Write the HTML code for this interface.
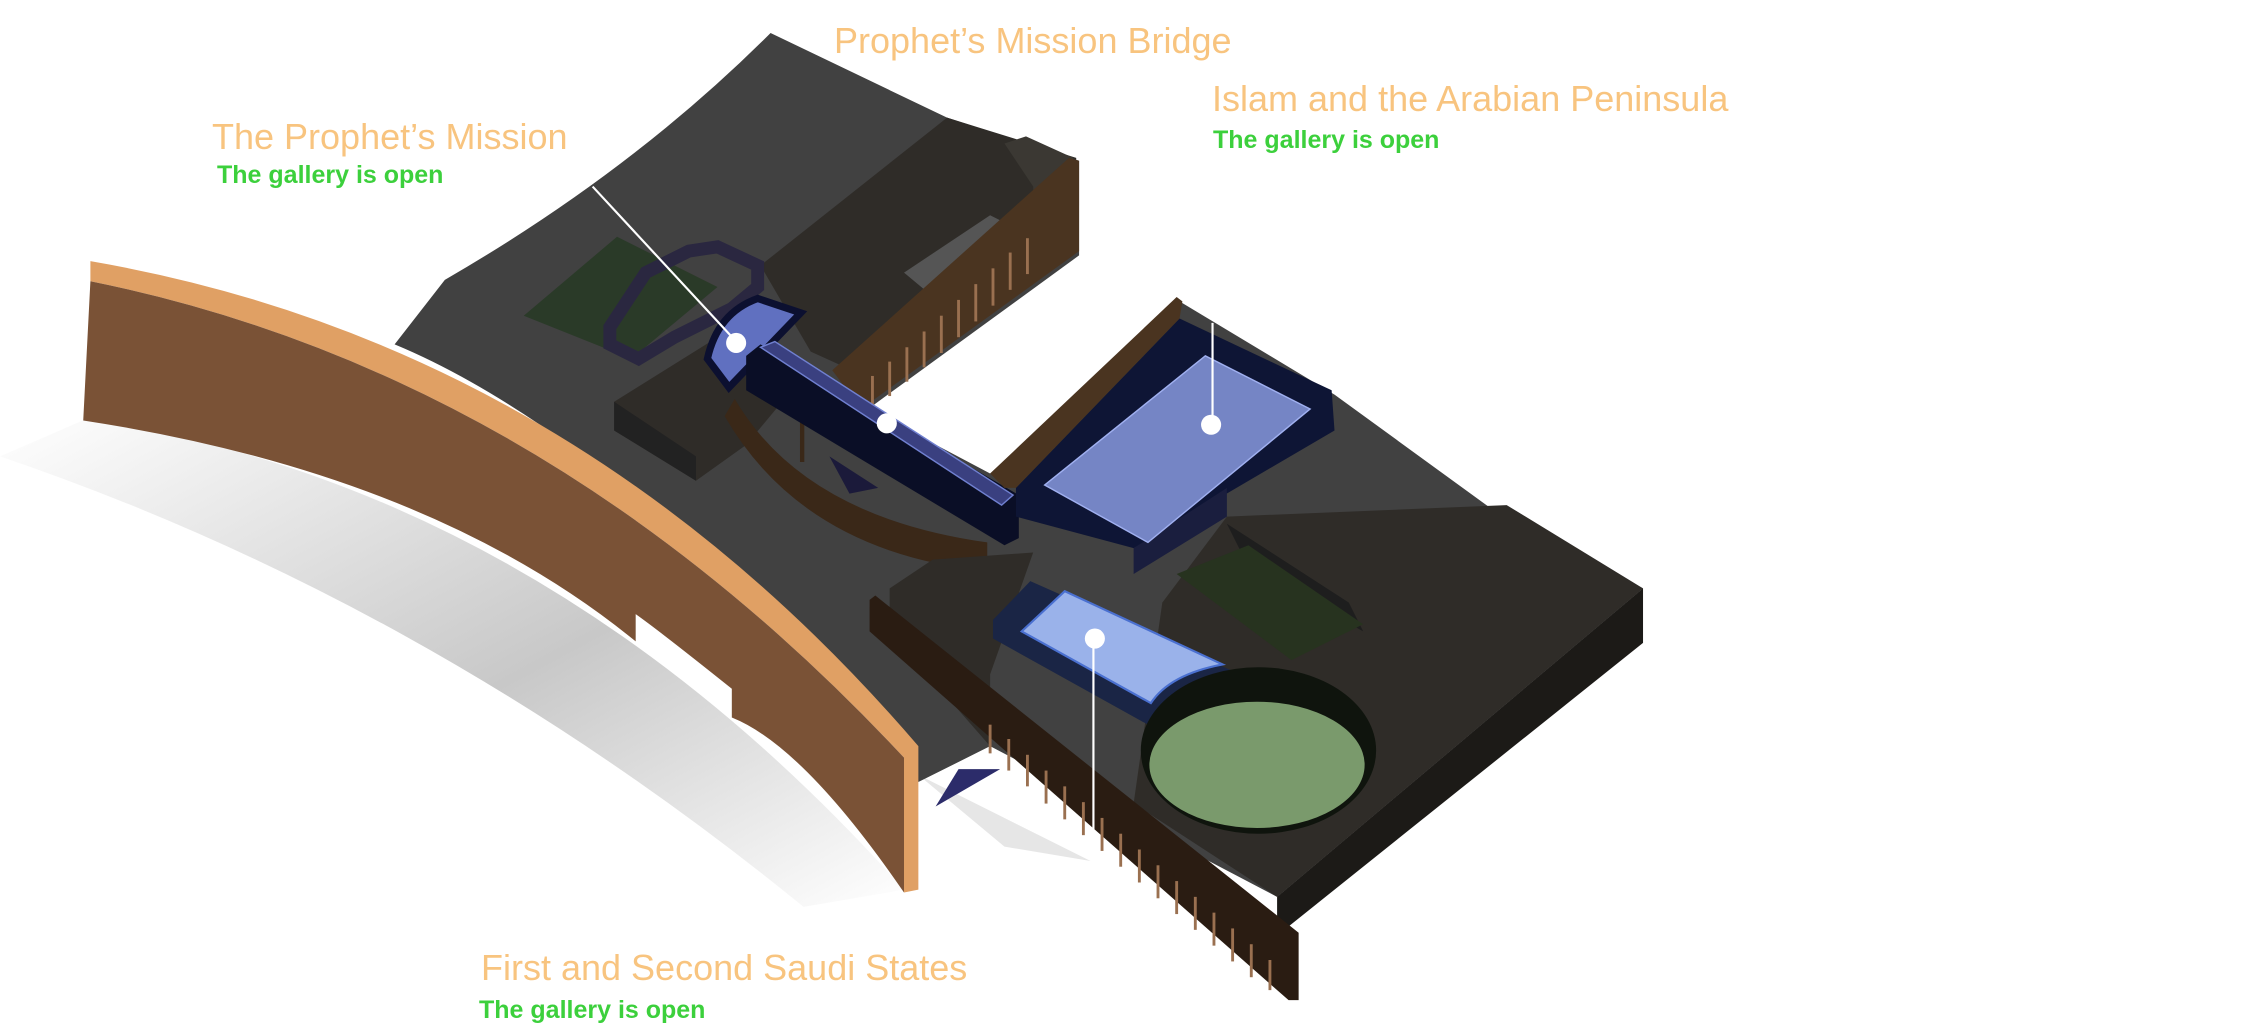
<!DOCTYPE html>
<html><head><meta charset="utf-8"><style>
html,body{margin:0;padding:0;background:#fff}
body{width:2250px;height:1026px;position:relative;overflow:hidden;font-family:"Liberation Sans",sans-serif}
svg{position:absolute;left:0;top:0}
.t{position:absolute;color:#f8c47f;font-size:36px;white-space:nowrap;line-height:1}
.g{position:absolute;color:#3cd03c;font-size:25px;font-weight:bold;white-space:nowrap;line-height:1}
</style></head><body>
<svg width="2250" height="1026" viewBox="0 0 1568 715" preserveAspectRatio="none">
<defs>
<linearGradient id="sh" x1="0" y1="0" x2="1" y2="1"><stop offset="0" stop-color="#fff"/><stop offset="0.55" stop-color="#c8c8c8"/><stop offset="1" stop-color="#fff"/></linearGradient>
</defs>
<!-- shadow -->
<path d="M0,318 L60,292 Q380,340 630,620 L560,632 Q300,420 0,318Z" fill="url(#sh)"/>
<path d="M640,540 L760,600 L700,590 Z" fill="#e6e6e6"/>
<!-- main gray platform -->
<path d="M537,23 L660,82 L752,112 L752,178 L690,330 L822,210 L930,275 L1040,355 L1145,410 L890,625 L690,520 L640,545 L630,520 Q420,300 275,240 L310,195 Q440,120 537,23Z" fill="#414141"/>
<!-- upper center dark blocks -->
<path d="M530,185 L660,82 L750,110 L750,175 L620,270 L565,245 Z" fill="#2f2c28"/>
<path d="M700,100 L715,95 L748,110 L748,178 L722,196 L720,130 Z" fill="#3b3833"/>
<path d="M630,190 L690,150 L720,165 L660,215Z" fill="#555"/>
<!-- white gap -->
<path d="M752,178 L820,207 L690,330 L605,285 Z" fill="#fff"/>
<!-- brown rail upper -->
<path d="M580,258 L745,110 L752,112 L752,175 L600,285 Z" fill="#4a3420"/>
<g stroke="#9a7050" stroke-width="2">
<line x1="608" y1="262" x2="608" y2="285"/><line x1="620" y1="252" x2="620" y2="276"/><line x1="632" y1="242" x2="632" y2="266"/><line x1="644" y1="231" x2="644" y2="256"/><line x1="656" y1="220" x2="656" y2="246"/><line x1="668" y1="209" x2="668" y2="235"/><line x1="680" y1="198" x2="680" y2="224"/><line x1="692" y1="187" x2="692" y2="213"/><line x1="704" y1="176" x2="704" y2="202"/><line x1="716" y1="166" x2="716" y2="191"/>
</g>
<!-- green courtyard upper left -->
<path d="M365,220 L430,165 L500,200 L440,250 Z" fill="#2a3a28"/>
<path d="M425,228 L450,190 L480,175 L500,172 L528,185 L528,200 L510,215 L470,235 L445,250 L425,240Z" fill="none" stroke="#2a2740" stroke-width="9"/>
<!-- left dark block -->
<path d="M428,280 L500,235 L560,262 L520,310 L485,335 L428,300Z" fill="#2f2c28"/>
<path d="M428,280 L428,300 L485,335 L485,318 Z" fill="#222"/>
<!-- arc brown rail -->
<path d="M512,278 Q560,360 688,378 L688,398 Q560,385 505,290Z" fill="#3a2818"/>
<path d="M578,318 L612,340 L592,344 Z" fill="#1b1a3a"/>
<line x1="559" y1="278" x2="559" y2="322" stroke="#3a2818" stroke-width="3"/>
<!-- semicircle -->
<path d="M493,250 Q500,218 528,208 L558,218 L508,270 Z" fill="#6070c0" stroke="#0c1030" stroke-width="5"/>
<!-- bridge -->
<path d="M520,248 L530,240 L710,345 L710,375 L700,380 L520,272Z" fill="#0a0e26"/>
<path d="M530,242 L540,238 L706,345 L698,352 Z" fill="#3a4080" stroke="#7080d0" stroke-width="1"/>
<!-- big blue box -->
<path d="M708,340 L822,222 L928,272 L930,300 L790,382 L708,360Z" fill="#0e1535"/>
<path d="M790,382 L790,400 L855,360 L855,340 Z" fill="#1a1e3e"/>
<path d="M728,338 L840,248 L913,285 L800,378 Z" fill="#7585c5" stroke="#a0b0f0" stroke-width="1"/>
<path d="M690,330 L820,207 L824,210 L822,222 L708,340 L700,340Z" fill="#4a3420"/>
<!-- right big block -->
<path d="M855,360 L1050,352 L1145,410 L890,625 L790,560 L810,420Z" fill="#2f2c28"/>
<path d="M1145,410 L1145,448 L890,652 L890,625Z" fill="#1c1a17"/>
<path d="M855,365 L940,420 L950,440 L870,395Z" fill="#1e1e1e"/>
<path d="M820,400 L870,380 L950,435 L900,460Z" fill="#27331f"/>
<!-- lower left dark block -->
<path d="M620,410 L650,390 L720,385 L690,470 L690,520 L620,440Z" fill="#2f2c28"/>
<!-- lower brown rail -->
<path d="M606,418 L610,415 L905,650 L905,697 L898,697 L606,440Z" fill="#2a1c12"/>
<g stroke="#9a7050" stroke-width="2">
<line x1="690" y1="505" x2="690" y2="525"/><line x1="703" y1="515" x2="703" y2="537"/><line x1="716" y1="526" x2="716" y2="548"/><line x1="729" y1="537" x2="729" y2="560"/><line x1="742" y1="548" x2="742" y2="571"/><line x1="755" y1="559" x2="755" y2="582"/><line x1="768" y1="570" x2="768" y2="593"/><line x1="781" y1="581" x2="781" y2="604"/><line x1="794" y1="592" x2="794" y2="615"/><line x1="807" y1="603" x2="807" y2="626"/><line x1="820" y1="614" x2="820" y2="637"/><line x1="833" y1="625" x2="833" y2="648"/><line x1="846" y1="636" x2="846" y2="659"/><line x1="859" y1="647" x2="859" y2="670"/><line x1="872" y1="658" x2="872" y2="681"/><line x1="885" y1="669" x2="885" y2="690"/>
</g>
<path d="M652,562 L668,536 L697,536 Z" fill="#2c2c6a"/>
<!-- lower blue rect -->
<path d="M692,432 L718,405 L860,468 L860,480 L800,505 L692,445Z" fill="#1a2545"/>
<path d="M712,440 L742,412 L852,463 Q815,470 802,490 Z" fill="#9ab2ea" stroke="#4a70d0" stroke-width="1.5"/>
<!-- ellipse -->
<ellipse cx="877" cy="523" rx="82" ry="58" fill="#0f140d"/>
<ellipse cx="876" cy="533" rx="75" ry="44" fill="#7a9a6c"/>
<!-- orange wall -->
<path d="M63,182 Q400,240 640,520 L640,620 L630,622 L630,528 Q380,260 63,196Z" fill="#e0a064"/>
<path d="M63,196 Q380,260 630,528 L630,622 Q560,520 510,500 L510,480 Q460,440 443,428 L443,447 Q300,330 58,293Z" fill="#7a5236"/>
<!-- leader lines -->
<g stroke="#fff" stroke-width="1.5">
<line x1="413" y1="130" x2="513" y2="238"/>
<line x1="845" y1="225" x2="845" y2="296"/>
<line x1="762" y1="445" x2="762" y2="612"/>
</g>
<g fill="#fff">
<ellipse cx="513" cy="239" rx="7" ry="7"/><ellipse cx="618" cy="295" rx="7" ry="7"/><ellipse cx="844" cy="296" rx="7" ry="7"/><ellipse cx="763" cy="445" rx="7" ry="7"/>
</g>
</svg>
<div class="t" style="left:834px;top:23px">Prophet’s Mission Bridge</div>
<div class="t" style="left:1212px;top:81px">Islam and the Arabian Peninsula</div>
<div class="g" style="left:1213px;top:128px">The gallery is open</div>
<div class="t" style="left:212px;top:119px">The Prophet’s Mission</div>
<div class="g" style="left:217px;top:163px">The gallery is open</div>
<div class="t" style="left:481px;top:950px">First and Second Saudi States</div>
<div class="g" style="left:479px;top:998px">The gallery is open</div>
</body></html>
